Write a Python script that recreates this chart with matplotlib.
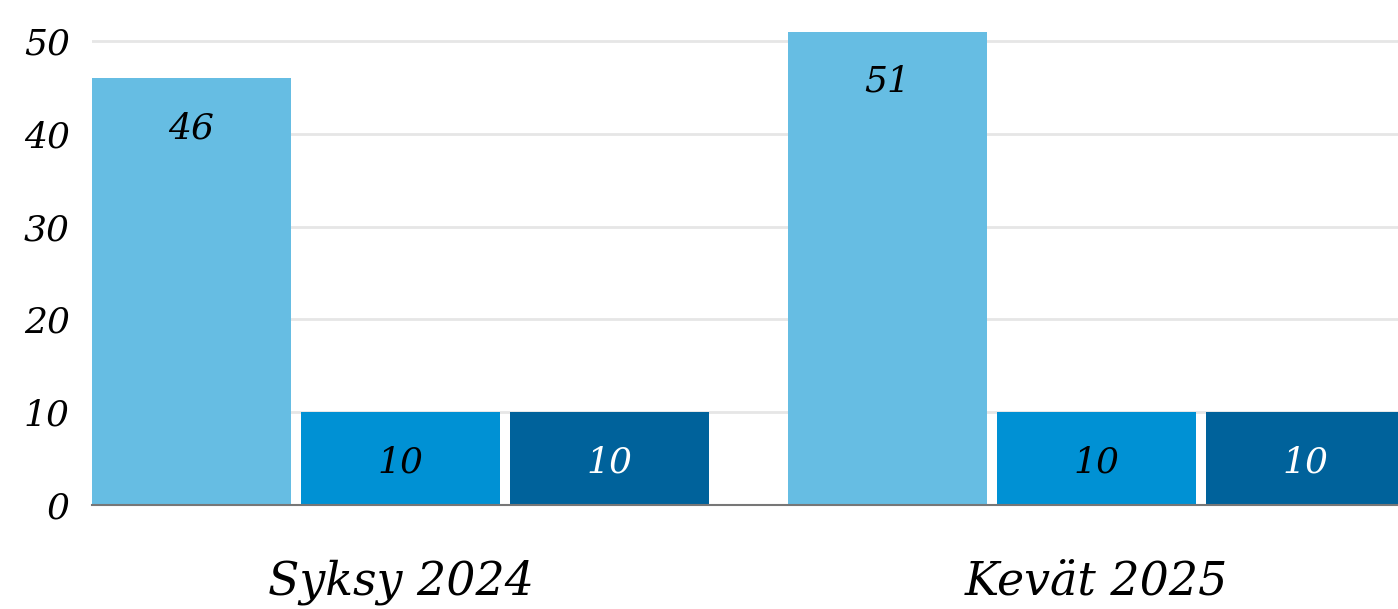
import numpy as np
import matplotlib.pyplot as plt
from matplotlib.transforms import blended_transform_factory

groups = ["Syksy 2024", "Kevät 2025"]
series_a = [46, 51]
series_b = [10, 10]
series_c = [10, 10]
yticks = [0, 10, 20, 30, 40, 50]

colors = ["#66bde3", "#0091d4", "#00629b"]
label_colors = ["black", "black", "white"]

plt.rcParams['font.family'] = ['DejaVu Serif']
plt.rcParams['font.style'] = 'italic'

fig = plt.figure(figsize=(13.98, 6.09), dpi=100)
ax = fig.add_axes([92 / 1398, 104 / 609, 1 - 92 / 1398, 505 / 609])

centers = np.array([0, 696 / 209])
width = 199 / 209
for i, vals in enumerate([series_a, series_b, series_c]):
    x = centers + (i - 1)
    bars = ax.bar(x, vals, width=width, color=colors[i], zorder=2)
    for b, v in zip(bars, vals):
        ax.annotate(str(v), (b.get_x() + b.get_width() / 2, v),
                    xytext=(0, -50), textcoords='offset pixels',
                    ha='center', va='center', fontsize=26,
                    color=label_colors[i])

ax.set_xlim(-1 - width / 2, (1398 - 400.5) / 209)
ax.set_ylim(0, 505 / 9.28)
ax.set_yticks(yticks)
ax.set_yticklabels([str(t) for t in yticks], fontsize=26)
ax.tick_params(axis='y', length=0, pad=16)
ax.set_xticks([])
ax.grid(axis='y', color='#e6e6e6', linewidth=2, zorder=0)
for s in ['top', 'right', 'left']:
    ax.spines[s].set_visible(False)
ax.spines['bottom'].set_color('#777777')
ax.spines['bottom'].set_linewidth(1.5)
ax.spines['bottom'].set_zorder(3)

trans = blended_transform_factory(ax.transData, fig.transFigure)
for c, g in zip(centers, groups):
    ax.text(c, (609 - 582) / 609, g, transform=trans, ha='center',
            va='center', fontsize=33)

fig.savefig("out.png", dpi=100)
